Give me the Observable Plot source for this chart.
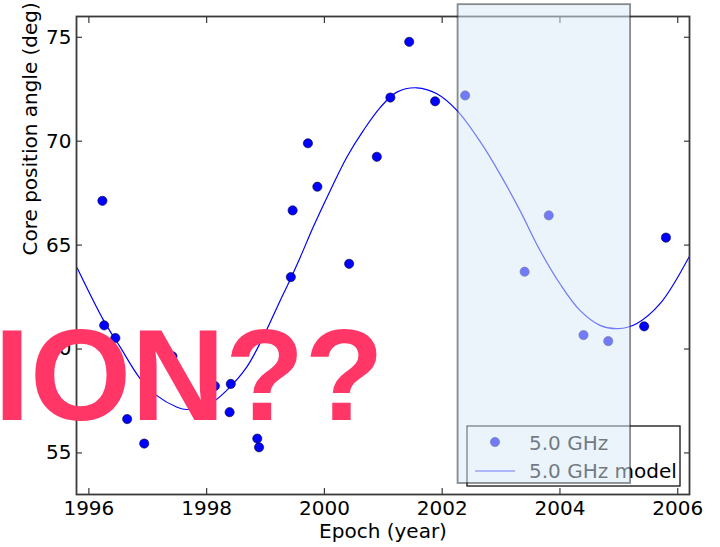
<!DOCTYPE html>
<html>
<head>
<meta charset="utf-8">
<script src="https://cdn.jsdelivr.net/npm/d3@7"></script>
<script src="https://cdn.jsdelivr.net/npm/@observablehq/plot@0.6"></script>
<style>
  html, body { margin: 0; padding: 0; background: #fff; }
  #chart { width: 720px; height: 547px; overflow: hidden; }
</style>
</head>
<body>
<div id="chart"></div>
<script>
// Observed epochs (year) and core position angles (deg), 5.0 GHz
const epochs = [1996.23, 1996.26, 1996.45, 1996.65, 1996.94, 1997.42, 1998.14, 1998.39, 1998.41, 1998.86, 1998.89, 1999.43, 1999.46, 1999.72, 1999.88, 2000.42, 2000.89, 2001.12, 2001.44, 2001.88, 2002.39, 2003.40, 2003.81, 2004.40, 2004.82, 2005.43, 2005.80];
const angles = [67.13, 61.14, 60.53, 56.63, 55.45, 59.65, 58.22, 56.96, 58.32, 55.69, 55.27, 63.46, 66.67, 69.90, 67.81, 64.10, 69.25, 72.10, 74.78, 71.92, 72.20, 63.72, 66.43, 60.67, 60.38, 61.09, 65.36];

// Model curve
const modelEpochs = [1995.80, 1996.25, 1996.53, 1996.87, 1997.15, 1997.49, 1997.66, 1998.06, 1998.34, 1998.68, 1998.96, 1999.25, 1999.36, 1999.59, 1999.81, 2000.10, 2000.38, 2000.66, 2000.95, 2001.23, 2001.57, 2001.91, 2002.25, 2002.64, 2002.98, 2003.32, 2003.66, 2004.00, 2004.34, 2004.68, 2004.99, 2005.30, 2005.70, 2006.19];
const modelAngles = [63.91, 61.38, 60.10, 58.58, 57.77, 57.21, 57.09, 57.37, 58.01, 59.13, 60.58, 62.34, 62.98, 64.42, 65.87, 67.63, 69.23, 70.51, 71.63, 72.36, 72.57, 72.28, 71.48, 70.00, 68.43, 66.67, 64.75, 63.14, 61.86, 61.14, 60.98, 61.22, 62.18, 64.42];

// Highlighted epoch span
const spanEpochs = [2002.27, 2005.20];
const spanAngles = [53.53, 76.57];

// Axes
const xDomain = [1995.79, 2006.2];
const yDomain = [53, 76];
const xTicks = [1996, 1998, 2000, 2002, 2004, 2006];
const yTicks = [55, 60, 65, 70, 75];
const xLabel = "Epoch (year)";
const yLabel = "Core position angle (deg)";
const legendLabels = ["5.0 GHz", "5.0 GHz model"];
const overlayText = "ION??";

const points = epochs.map((e, i) => ({epoch: e, angle: angles[i]}));
const model = modelEpochs.map((e, i) => ({epoch: e, angle: modelAngles[i]}));
const span = [{x1: spanEpochs[0], x2: spanEpochs[1], y1: spanAngles[0], y2: spanAngles[1]}];

const BLUE = "#0000ff";
const INK = "#3a3a3a";

function legend(index, scales, values, dims) {
  const right = dims.width - dims.marginRight - 9;
  const bottom = dims.height - dims.marginBottom - 8;
  const w = 213, h = 60;
  const x = right - w, y = bottom - h;
  const g = d3.create("svg:g");
  g.append("rect").attr("x", x).attr("y", y).attr("width", w).attr("height", h)
    .attr("fill", "#fff").attr("stroke", "#111").attr("stroke-width", 1.3);
  g.append("circle").attr("cx", x + 28).attr("cy", y + 16).attr("r", 4.6)
    .attr("fill", BLUE).attr("stroke", "#000033").attr("stroke-width", 0.6);
  g.append("line").attr("x1", x + 8).attr("x2", x + 48).attr("y1", y + 45).attr("y2", y + 45)
    .attr("stroke", BLUE).attr("stroke-width", 1.2);
  g.append("text").attr("x", x + 62).attr("y", y + 17).attr("dominant-baseline", "central")
    .attr("text-anchor", "start").attr("fill", "#000").attr("font-size", 20).text(legendLabels[0]);
  g.append("text").attr("x", x + 62).attr("y", y + 45).attr("dominant-baseline", "central")
    .attr("text-anchor", "start").attr("fill", "#000").attr("font-size", 20).text(legendLabels[1]);
  return g.node();
}

const svg = Plot.plot({
  width: 720,
  height: 547,
  marginLeft: 76,
  marginRight: 31,
  marginTop: 16,
  marginBottom: 53,
  style: {fontFamily: "DejaVu Sans", fontSize: "20px", background: "white", color: "#000"},
  x: {domain: xDomain, label: null},
  y: {domain: yDomain, label: null},
  marks: [
    Plot.line(model, {x: "epoch", y: "angle", stroke: BLUE, strokeWidth: 1.2, curve: "catmull-rom", clip: true}),
    Plot.dot(points, {x: "epoch", y: "angle", r: 4.6, fill: BLUE, stroke: "#000033", strokeWidth: 0.6}),
    // tick labels
    Plot.axisX(xTicks, {anchor: "bottom", tickSize: 0, tickPadding: 6, tickFormat: d => String(d), fontSize: 20, label: null}),
    Plot.axisY(yTicks, {anchor: "left", tickSize: 0, tickPadding: 5, tickFormat: d => String(d), fontSize: 20, label: null}),
    // inward ticks on all four sides
    Plot.axisX(xTicks, {anchor: "bottom", tickSize: -6, tickFormat: () => "", label: null, stroke: INK, strokeWidth: 1.2}),
    Plot.axisX(xTicks, {anchor: "top", tickSize: -6, tickFormat: () => "", label: null, stroke: INK, strokeWidth: 1.2}),
    Plot.axisY(yTicks, {anchor: "left", tickSize: -6, tickFormat: () => "", label: null, stroke: INK, strokeWidth: 1.2}),
    Plot.axisY(yTicks, {anchor: "right", tickSize: -6, tickFormat: () => "", label: null, stroke: INK, strokeWidth: 1.2}),
    Plot.frame({stroke: INK, strokeWidth: 1.8}),
    Plot.text([xLabel], {frameAnchor: "bottom", dy: 37, text: d => d, fontSize: 20, lineAnchor: "middle", fill: "#000"}),
    Plot.text([yLabel], {frameAnchor: "left", dx: -46, rotate: -90, text: d => d, fontSize: 20, lineAnchor: "middle", fill: "#000"}),
    legend,
    Plot.rect(span, {x1: "x1", x2: "x2", y1: "y1", y2: "y2", fill: "#d7eaf5", fillOpacity: 0.52, stroke: "#111", strokeOpacity: 0.48, strokeWidth: 1.8})
  ]
});

d3.select(svg).append("text")
  .attr("x", -6).attr("y", 420)
  .attr("text-anchor", "start")
  .attr("font-family", "Liberation Sans, Arial, sans-serif")
  .attr("font-weight", "bold")
  .attr("font-size", 130)
  .attr("fill", "#ff3666")
  .text(overlayText);

document.getElementById("chart").appendChild(svg);
</script>
</body>
</html>
